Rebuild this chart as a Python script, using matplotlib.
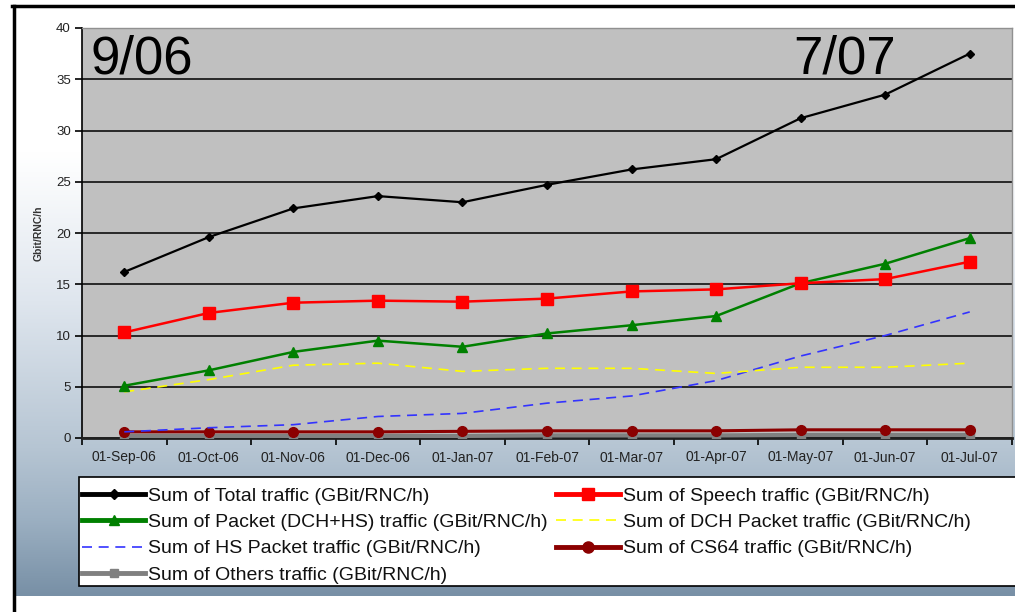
import numpy as np
import matplotlib
matplotlib.use("Agg")
import matplotlib.pyplot as plt
from matplotlib.colors import LinearSegmentedColormap
from matplotlib.patches import Rectangle
from matplotlib.lines import Line2D

plt.rcParams['font.family'] = ['Liberation Sans', 'DejaVu Sans']

months = ['01-Sep-06', '01-Oct-06', '01-Nov-06', '01-Dec-06', '01-Jan-07',
          '01-Feb-07', '01-Mar-07', '01-Apr-07', '01-May-07', '01-Jun-07',
          '01-Jul-07']
total = [16.2, 19.6, 22.4, 23.6, 23.0, 24.7, 26.2, 27.2, 31.2, 33.5, 37.5]
speech = [10.3, 12.2, 13.2, 13.4, 13.3, 13.6, 14.3, 14.5, 15.1, 15.5, 17.2]
packet = [5.1, 6.6, 8.4, 9.5, 8.9, 10.2, 11.0, 11.9, 15.1, 17.0, 19.5]
dch_packet = [4.5, 5.7, 7.1, 7.3, 6.5, 6.8, 6.8, 6.3, 6.9, 6.9, 7.3]
hs_packet = [0.6, 1.0, 1.3, 2.1, 2.4, 3.4, 4.1, 5.6, 8.0, 10.0, 12.3]
cs64 = [0.6, 0.6, 0.6, 0.6, 0.65, 0.7, 0.7, 0.7, 0.8, 0.8, 0.8]
others = [0.2, 0.2, 0.2, 0.2, 0.2, 0.25, 0.25, 0.25, 0.3, 0.3, 0.3]
yticks = [0, 5, 10, 15, 20, 25, 30, 35, 40]
period_start = '9/06'
period_end = '7/07'

W, H = 1015, 612
fig = plt.figure(figsize=(W / 100, H / 100), dpi=100)
fig.patch.set_facecolor('white')


def fx(px):
    return px / W


def fy(py):
    return 1 - py / H


# slide background: vertical gradient from white to slate blue
bg = fig.add_axes([fx(13), fy(596), fx(W - 13), (596 - 6) / H], zorder=0)
stops = [(0.0, '#ffffff'), (0.25, '#ffffff'), (0.5, '#dfe6ee'),
         (0.75, '#b6c5d3'), (0.87, '#9cb0c2'), (1.0, '#7890a6')]
cmap = LinearSegmentedColormap.from_list('slide', stops)
grad = np.linspace(0, 1, 256).reshape(-1, 1)
bg.imshow(grad, aspect='auto', cmap=cmap, extent=[0, 1, 1, 0])
bg.set_axis_off()

# frame lines of the slide
fig.add_artist(Line2D([fx(12), 1.0], [fy(6), fy(6)], color='black', lw=2.5))
fig.add_artist(Line2D([fx(14), fx(14)], [0, fy(6)], color='black', lw=2.5))

ax = fig.add_axes([fx(82), fy(438), fx(1012 - 82), (438 - 28) / H], zorder=2)
ax.set_facecolor('#c0c0c0')
x = np.arange(len(months))

ax.plot(x, others, color='#808080', lw=3, marker='s', ms=6, zorder=3)
ax.plot(x, cs64, color='#8b0000', lw=2.2, marker='o', ms=7, zorder=4)
ax.plot(x, hs_packet, color='#3333ff', lw=1.2, ls=(0, (6, 4)), zorder=5)
ax.plot(x, dch_packet, color='#ffff00', lw=1.2, ls=(0, (6, 4)), zorder=5)
ax.plot(x, packet, color='#008000', lw=1.8, marker='^', ms=7, zorder=6)
ax.plot(x, speech, color='#ff0000', lw=1.8, marker='s', ms=8, zorder=7)
ax.plot(x, total, color='black', lw=1.6, marker='D', ms=4, zorder=8)

ax.set_xlim(-0.5, len(months) - 0.5)
ax.set_ylim(0, 40)
ax.set_yticks(yticks)
ax.set_yticklabels([str(v) for v in yticks], fontsize=9.5, color='#222222')
ax.set_xticks(x)
ax.set_xticklabels(months, fontsize=10, color='#222222')
ax.set_xticks(np.arange(-0.5, len(months), 1.0), minor=True)
ax.tick_params(axis='x', which='major', length=0, pad=9)
ax.tick_params(axis='x', which='minor', length=5, width=1.2, direction='out')
ax.tick_params(axis='y', length=5, width=1.2, direction='out', pad=3)
ax.yaxis.grid(True, color='black', lw=1.1)
ax.set_axisbelow(True)
for side in ('top', 'right'):
    ax.spines[side].set_color('#909090')
    ax.spines[side].set_linewidth(1)
ax.spines['left'].set_color('black')
ax.spines['left'].set_linewidth(1.2)
ax.spines['bottom'].set_color('#202020')
ax.spines['bottom'].set_linewidth(2)

ax.set_ylabel('Gbit/RNC/h', fontsize=7.5, fontweight='bold', color='#333333',
              labelpad=9)

ax.text(0.009, 0.985, period_start, transform=ax.transAxes, fontsize=38,
        va='top', ha='left', color='black')
ax.text(0.765, 0.985, period_end, transform=ax.transAxes, fontsize=38,
        va='top', ha='left', color='black')

# legend panel, running past the right edge of the slide
fig.add_artist(Rectangle((fx(79), fy(586)), fx(1040 - 79), (586 - 477) / H,
                         facecolor='white', edgecolor='black', lw=1.2,
                         zorder=3))

handles = [
    Line2D([], [], color='black', lw=3.5, marker='D', ms=5),
    Line2D([], [], color='#ff0000', lw=3.5, marker='s', ms=9),
    Line2D([], [], color='#008000', lw=3.5, marker='^', ms=7),
    Line2D([], [], color='#ffff00', lw=1.2, ls=(0, (6, 4))),
    Line2D([], [], color='#3333ff', lw=1.2, ls=(0, (6, 4))),
    Line2D([], [], color='#8b0000', lw=3.5, marker='o', ms=8),
    Line2D([], [], color='#808080', lw=3.5, marker='s', ms=6),
]
labels = [
    'Sum of Total traffic (GBit/RNC/h)',
    'Sum of Speech traffic (GBit/RNC/h)',
    'Sum of Packet (DCH+HS) traffic (GBit/RNC/h)',
    'Sum of DCH Packet traffic (GBit/RNC/h)',
    'Sum of HS Packet traffic (GBit/RNC/h)',
    'Sum of CS64 traffic (GBit/RNC/h)',
    'Sum of Others traffic (GBit/RNC/h)',
]
# order entries row by row over two columns
col1 = [0, 2, 4, 6]
col2 = [1, 3, 5]
leg = fig.legend([handles[i] for i in col1 + col2],
                 [labels[i] for i in col1 + col2],
                 loc='upper left', bbox_to_anchor=(fx(82), fy(487)),
                 ncol=2, frameon=False, fontsize=14, handlelength=3.25,
                 handletextpad=0.15, columnspacing=0.45, labelspacing=0.45,
                 borderaxespad=0, borderpad=0)
leg.set_zorder(4)
for t in leg.get_texts():
    t.set_color('#111111')

fig.savefig('out.png', dpi=100, facecolor='white')
